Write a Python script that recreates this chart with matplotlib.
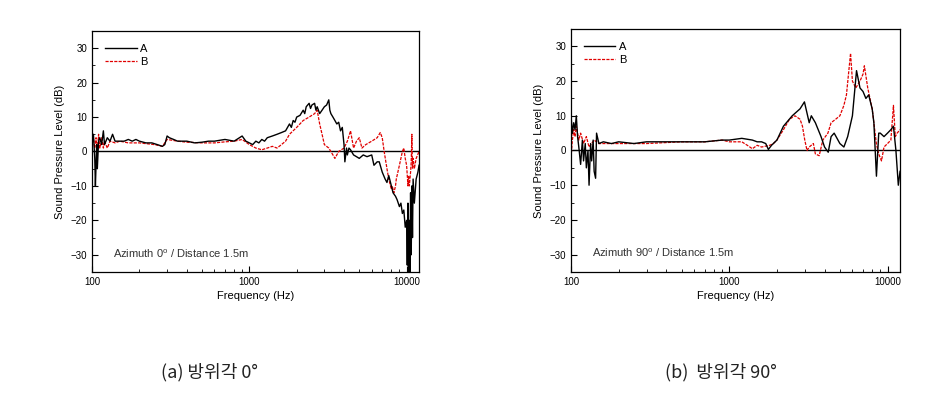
import numpy as np
import matplotlib
matplotlib.use('Agg')
import matplotlib.pyplot as plt
from matplotlib.ticker import FixedLocator, NullFormatter

plt.rcParams['font.family'] = ['Liberation Sans', 'DejaVu Sans']

# azimuth 0 deg
f0_a = [100, 102, 104, 105, 106, 107, 108, 110, 112, 115, 118, 120, 125, 130, 135, 140,
        150, 160, 170, 180, 190, 200, 220, 240, 260, 280, 290, 300, 310, 330, 350, 400,
        450, 500, 550, 600, 700, 800, 900, 950, 1000, 1050, 1100, 1150, 1200, 1250, 1300,
        1400, 1500, 1600, 1700, 1800, 1850, 1900, 1950, 2000, 2100, 2200, 2250, 2300,
        2400, 2450, 2500, 2600, 2650, 2700, 2800, 2900, 3000, 3100, 3200, 3250, 3300,
        3400, 3500, 3600, 3700, 3800, 3900, 4000, 4050, 4150, 4200, 4300, 4400, 4600,
        4800, 5000, 5300, 5600, 6000, 6200, 6500, 6700, 7000, 7300, 7500, 7700, 8000,
        8200, 8500, 8700, 9000, 9200, 9400, 9600, 9800, 10000, 10100, 10200, 10300,
        10400, 10500, 10600, 10700, 10800, 10900, 11000, 11200, 11500, 11800, 12000]
a0 = [3, 5, -2, -10, -4, 2, -5, 3, 4, 2, 6, 2, 4, 3, 5, 3,
      3, 3, 3.5, 3, 3.5, 3, 2.5, 2.5, 2, 1.5, 2, 4.5, 4, 3.5, 3, 3,
      2.5, 2.7, 3, 3, 3.5, 3, 4.5, 3, 2.5, 2, 3, 2.5, 3.5, 3, 4,
      4.5, 5, 5.5, 6, 8, 7, 9, 8.5, 10, 10.5, 12, 11, 13,
      14, 12.5, 13.5, 14, 12, 13, 11, 12, 13, 13.5, 15, 12, 11,
      10, 9, 8, 8.5, 6, 7, 2, -3, 1, -1, 1, 0.5, -1,
      -1.5, -2, -1, -1.5, -1, -4, -3, -3, -6, -8, -9, -7, -10,
      -12, -13, -14, -16, -15, -18, -17, -22, -20, -33, -15, -35,
      -20, -35, -12, -30, -10, -25, -8, -15, -8, -6, -4]

f0_b = [100, 102, 104, 106, 108, 110, 112, 115, 118, 120, 125, 130, 140, 150, 170, 200,
        250, 280, 300, 350, 400, 500, 600, 700, 800, 900, 1000, 1100, 1200, 1300, 1400,
        1500, 1600, 1700, 1800, 2000, 2200, 2400, 2600, 2700, 2800, 2900, 3000, 3200,
        3400, 3500, 3700, 4000, 4200, 4400, 4600, 4800, 5000, 5200, 5500, 6000, 6500,
        6800, 7000, 7200, 7500, 7700, 8000, 8100, 8300, 8500, 8600, 9000, 9400, 9600,
        9800, 10000, 10200, 10300, 10400, 10600, 10700, 10800, 10900, 11000, 11200,
        11500, 12000]
b0 = [2, 4, 1, 4, 0, 5, 1, 4, 1, 3, 1, 3, 2.5, 3, 2.5, 2.5,
      2, 1.5, 3.5, 3, 2.7, 2.5, 2.5, 2.8, 3, 3.5, 2, 1, 0.5, 1, 1.5,
      1, 2, 3, 5, 7, 9, 10, 11, 12, 8, 5, 2, 1,
      -1, -2, 0, 1, 3, 6, 1, 3, 4, 1, 2, 3, 4,
      5.5, 4, 0, -5, -8, -11, -10, -12, -10, -8, -4, 0, 1,
      -2, -4, -10, -7, -10, -6, -3, 5, -5, -2, -5,
      -2, 0]

# azimuth 90 deg
f90_a = [100, 102, 104, 106, 108, 110, 112, 115, 118, 120, 123, 125, 128, 130, 133, 135,
         138, 140, 143, 145, 150, 160, 180, 200, 250, 300, 400, 500, 700, 900, 1000,
         1200, 1400, 1500, 1600, 1700, 1766, 1850, 2000, 2200, 2500, 2800, 2985, 3200,
         3300, 3500, 3800, 4000, 4220, 4400, 4600, 5000, 5300, 5600, 6000, 6370, 6700,
         7000, 7300, 7600, 8000, 8200, 8510, 8800, 9000, 9500, 10000, 10500, 10900,
         11300, 11700, 12000]
a90 = [10, 5, 8, 6, 10, 4, 1, -4, 3, -3, 2, -5, 0, -10, 2, -3,
       3, -6, -8, 5, 2, 2.5, 2, 2.5, 2, 2.5, 2.5, 2.5, 2.5, 3, 3,
       3.5, 3, 2.5, 2.5, 2, 0.3, 1.5, 3, 7, 10, 12, 14, 8,
       10, 8, 4, 1, -0.5, 4, 5, 2, 1, 4, 10, 23, 18,
       17, 15, 16, 12, 8, -7.4, 5, 5, 4, 5, 6, 7,
       0, -10, -6]

f90_b = [100, 102, 104, 106, 108, 110, 112, 115, 120, 125, 130, 140, 150, 200, 300, 500,
         700, 900, 1000, 1200, 1300, 1400, 1500, 1600, 1800, 1900, 2000, 2200, 2400,
         2600, 2800, 2900, 3000, 3100, 3200, 3400, 3500, 3700, 3900, 4200, 4400, 4700,
         5000, 5300, 5500, 5840, 6000, 6300, 6700, 7000, 7140, 7500, 8000, 8500, 8800,
         9160, 9500, 10000, 10500, 10900, 11200, 11500, 12000]
b90 = [-2, 3, 6, 4, 7, 5, 3, 5, 2, 4, 1, 3, 2, 2, 2, 2.5,
       2.5, 3, 2.5, 2.5, 1.5, 0.5, 1.5, 1, 1.5, 2, 3, 6, 9,
       10, 9, 7, 3, 0, 1, 2, -1, -1.5, 3, 5, 8, 9,
       10, 13, 16, 28, 20, 18, 20, 22, 24.4, 18, 12, 2, -1,
       -3, 1, 2, 3, 13, 4, 5, 6]

panels = [
    (f0_a, a0, f0_b, b0, 'Azimuth 0$^\\mathregular{o}$ / Distance 1.5m', [0.099, 0.3217, 0.3516, 0.601]),
    (f90_a, a90, f90_b, b90, 'Azimuth 90$^\\mathregular{o}$ / Distance 1.5m', [0.614, 0.3217, 0.3538, 0.606]),
]
captions = ['(a) 방위각 0°', '(b)  방위각 90°']
cap_x = [0.225, 0.775]

fig = plt.figure(figsize=(9.3, 4.01), dpi=100)

for (fa, ya, fb, yb, note, rect), cap, cx in zip(panels, captions, cap_x):
    ax = fig.add_axes(rect)
    ax.axhline(0, color='black', lw=1.0, zorder=1)
    ax.plot(fa, ya, color='black', lw=1.0, label='A', zorder=3)
    ax.plot(fb, yb, color='#e00000', lw=0.9, ls=(0, (2.5, 1)), label='B', zorder=2)
    ax.set_xscale('log')
    ax.set_xlim(100, 12000)
    ax.set_ylim(-35, 35)
    ax.set_xticks([100, 1000, 10000])
    ax.set_xticklabels(['100', '1000', '10000'])
    ax.xaxis.set_minor_locator(FixedLocator([k * 10 ** e for e in (2, 3) for k in range(2, 10)]))
    ax.xaxis.set_minor_formatter(NullFormatter())
    ax.set_yticks([-30, -20, -10, 0, 10, 20, 30])
    ax.set_yticks([-25, -15, -5, 5, 15, 25], minor=True)
    ax.tick_params(which='both', direction='in', top=False, right=False, labelsize=7)
    ax.tick_params(which='major', length=4, width=0.8)
    ax.tick_params(which='minor', length=2.5, width=0.6)
    for s in ax.spines.values():
        s.set_linewidth(0.9)
    ax.set_xlabel('Frequency (Hz)', fontsize=8, labelpad=3)
    ax.set_ylabel('Sound Pressure Level (dB)', fontsize=8, labelpad=4)
    ax.legend(loc='upper left', frameon=False, fontsize=8, handlelength=2.8,
              handletextpad=0.3, labelspacing=0.2, borderaxespad=0.8)
    ax.text(0.065, 0.06, note, transform=ax.transAxes, fontsize=8, color='#333333')
    fig.text(cx, 0.072, cap, ha='center', va='center', fontsize=13,
             family=['Noto Sans CJK KR', 'DejaVu Sans'], fontweight='light', color='#222222')

fig.savefig('out.png', dpi=100, facecolor='white')
